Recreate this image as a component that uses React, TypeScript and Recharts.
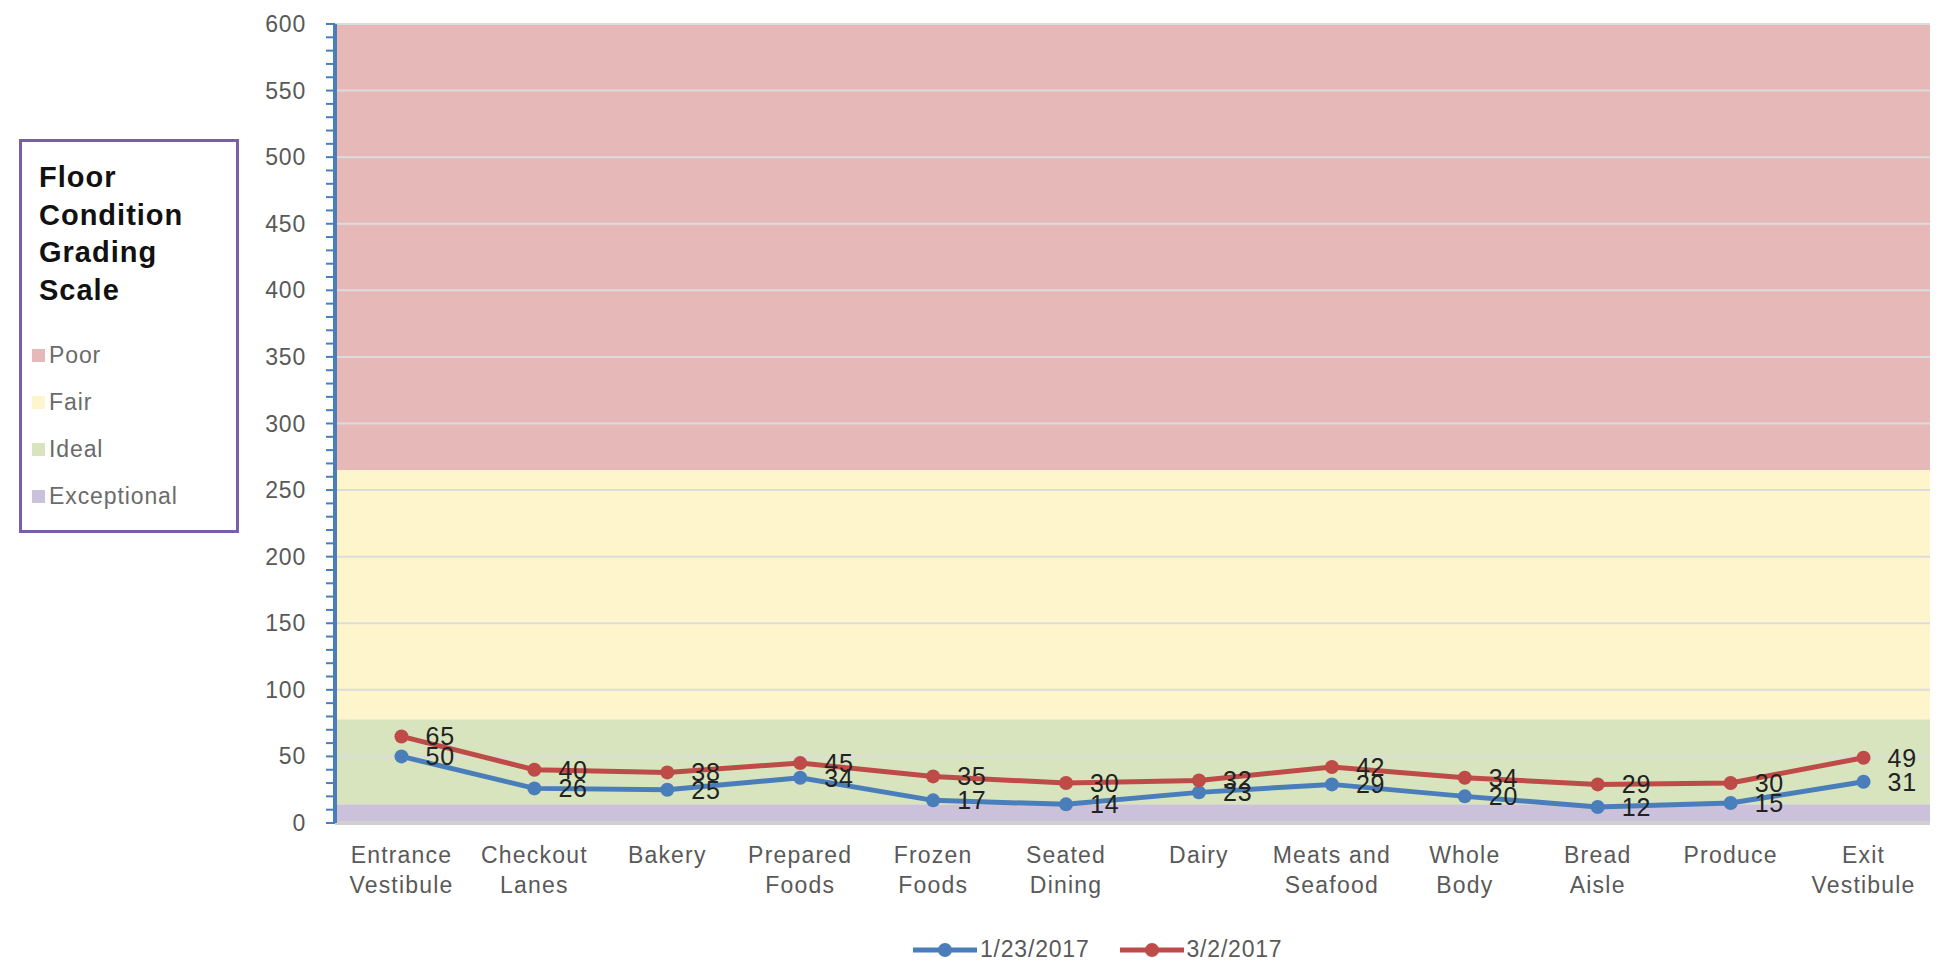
import React from "react";
import {
  LineChart, Line, XAxis, YAxis,
  ReferenceArea, ReferenceLine, LabelList,
} from "recharts";

const areas = [
  "Entrance\nVestibule", "Checkout\nLanes", "Bakery", "Prepared\nFoods",
  "Frozen\nFoods", "Seated\nDining", "Dairy", "Meats and\nSeafood",
  "Whole\nBody", "Bread\nAisle", "Produce", "Exit\nVestibule",
];
const jan23 = [50, 26, 25, 34, 17, 14, 23, 29, 20, 12, 15, 31];
const mar02 = [65, 40, 38, 45, 35, 30, 32, 42, 34, 29, 30, 49];

const yMajor = [0, 50, 100, 150, 200, 250, 300, 350, 400, 450, 500, 550, 600];
const yMinor = [
  0, 10, 20, 30, 40, 50, 60, 70, 80, 90, 100, 110, 120, 130, 140, 150, 160, 170, 180, 190,
  200, 210, 220, 230, 240, 250, 260, 270, 280, 290, 300, 310, 320, 330, 340, 350, 360, 370,
  380, 390, 400, 410, 420, 430, 440, 450, 460, 470, 480, 490, 500, 510, 520, 530, 540, 550,
  560, 570, 580, 590, 600,
];

// grading scale bands (drawn bottom to top)
const bandNames = ["Exceptional", "Ideal", "Fair", "Poor"];
const bandFrom = [0, 14, 78, 265];
const bandTo = [14, 78, 265, 600];
const bandColors = ["#ccc1da", "#d7e4bd", "#fff5cc", "#e6b8b7"];

const seriesNames = ["1/23/2017", "3/2/2017"];
const seriesColors = ["#4a7ebb", "#be4b48"];

const data = areas.map((name, i) => ({ name, jan: jan23[i], mar: mar02[i] }));

const FONT = "'Liberation Sans', Arial, sans-serif";
const AXIS_BLUE = "#4a7ebb";

const YTick = ({ x, y, payload }: any) => {
  if (payload.value % 50 !== 0) return null;
  return (
    <text x={x} y={y} dy={8} textAnchor="end" fontSize={23} letterSpacing={0.8}
      fill="#595959" fontFamily={FONT}>
      {payload.value}
    </text>
  );
};

const XTick = ({ x, y, payload }: any) => {
  const lines = String(payload.value).split("\n");
  return (
    <text x={x} y={y} textAnchor="middle" fontSize={23} letterSpacing={1.2}
      fill="#595959" fontFamily={FONT}>
      {lines.map((l, i) => (
        <tspan key={i} x={x} dy={i === 0 ? 40 : 30}>{l}</tspan>
      ))}
    </text>
  );
};

const PointLabel = (props: any) => {
  const { x, y, value } = props;
  return (
    <text x={x + 24} y={y} dy={9} fontSize={25} letterSpacing={0.8}
      fill="#222" fontFamily={FONT}>
      {value}
    </text>
  );
};

export default function App() {
  return (
    <div style={{ position: "absolute", left: 0, top: 0, width: 1942, height: 962, background: "#fff", fontFamily: FONT }}>
      <LineChart width={1942} height={962} data={data}
        margin={{ top: 24, right: 12, left: 0, bottom: 0 }}>
        {bandNames.map((b, i) => (
          <ReferenceArea key={b} y1={bandFrom[i]} y2={bandTo[i]}
            fill={bandColors[i]} fillOpacity={1} stroke="none" />
        ))}
        {yMajor.map((v) => (
          <ReferenceLine key={v} y={v} stroke={v === 0 ? "#d0d0d0" : "#dcdcdc"}
            strokeWidth={v === 0 ? 4 : 2} />
        ))}
        <XAxis dataKey="name" scale="band" axisLine={false} tickLine={false} tickSize={0} tickMargin={0}
          height={139} interval={0} tick={<XTick />} />
        <YAxis domain={[0, 600]} ticks={yMinor} interval={0} width={335}
          axisLine={{ stroke: AXIS_BLUE, strokeWidth: 4 }}
          tickLine={{ stroke: AXIS_BLUE, strokeWidth: 2 }} tickSize={9} tickMargin={20}
          tick={<YTick />} />
        <Line type="linear" dataKey="jan" name={seriesNames[0]} stroke={seriesColors[0]}
          strokeWidth={5} dot={{ r: 7, fill: seriesColors[0], stroke: "none" }}
          isAnimationActive={false}>
          <LabelList dataKey="jan" content={<PointLabel />} />
        </Line>
        <Line type="linear" dataKey="mar" name={seriesNames[1]} stroke={seriesColors[1]}
          strokeWidth={5} dot={{ r: 7, fill: seriesColors[1], stroke: "none" }}
          isAnimationActive={false}>
          <LabelList dataKey="mar" content={<PointLabel />} />
        </Line>
      </LineChart>

      {/* grading scale legend box */}
      <div style={{
        position: "absolute", left: 19, top: 139, width: 220, height: 394,
        boxSizing: "border-box", border: "3px solid #7a5ea8", background: "#fff",
      }}>
        <div style={{ position: "absolute", left: 17, top: 17, fontWeight: "bold", fontSize: 29, lineHeight: "37.5px", color: "#111", letterSpacing: 1 }}>
          Floor<br />Condition<br />Grading<br />Scale
        </div>
        {[...bandNames].reverse().map((b, i) => {
          const c = bandColors[bandNames.length - 1 - i];
          return (
            <div key={b} style={{ position: "absolute", left: 10, top: 200 + i * 47, display: "flex", alignItems: "center", fontSize: 23, color: "#6b6b6b", letterSpacing: 0.9 }}>
              <span style={{ width: 13, height: 13, background: c, marginRight: 4, display: "inline-block" }} />
              {b}
            </div>
          );
        })}
      </div>

      {/* series legend */}
      <div style={{ position: "absolute", left: 913, top: 936, display: "flex", alignItems: "center", fontSize: 23, color: "#595959", letterSpacing: 0.8 }}>
        {seriesNames.map((s, i) => (
          <div key={s} style={{ display: "flex", alignItems: "center", marginRight: 30 }}>
            <svg width={64} height={16} style={{ marginRight: 3 }}>
              <line x1={0} y1={8} x2={64} y2={8} stroke={seriesColors[i]} strokeWidth={5} />
              <circle cx={32} cy={8} r={7} fill={seriesColors[i]} />
            </svg>
            <span>{s}</span>
          </div>
        ))}
      </div>
    </div>
  );
}
